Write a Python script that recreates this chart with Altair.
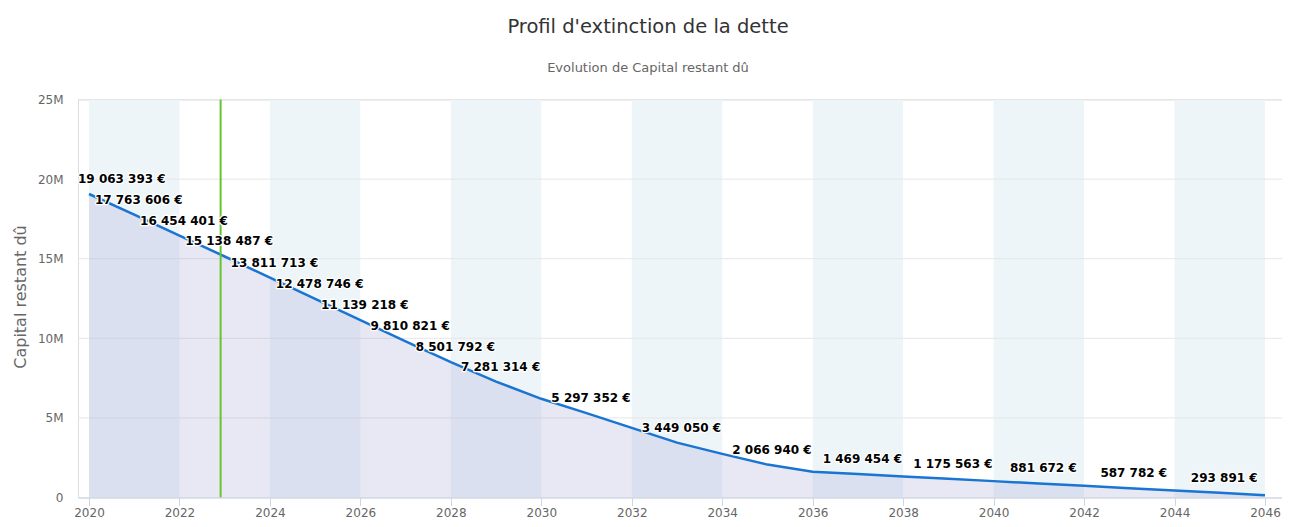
import altair as alt
import pandas as pd

# ---- data ----
years = list(range(2020, 2047))
capital = [19063393, 17763606, 16454401, 15138487, 13811713, 12478746,
           11139218, 9810821, 8501792, 7281314, 6200000, 5297352,
           4370000, 3449050, 2740000, 2066940, 1616400, 1469454,
           1322500, 1175563, 1028600, 881672, 734700, 587782,
           440800, 293891, 147000]
label_years = [2021, 2022, 2023, 2024, 2025, 2026, 2027, 2028, 2029,
               2031, 2033, 2035, 2037, 2039, 2041, 2043, 2045]
first_label_year = 2020
band_starts = [2020, 2024, 2028, 2032, 2036, 2040, 2044]
band_ends = [2022, 2026, 2030, 2034, 2038, 2042, 2046]
today_marker = 2022.91
x_ticks = list(range(2020, 2047, 2))
y_ticks = [0, 5000000, 10000000, 15000000, 20000000, 25000000]


def fmt(v):
    return f"{v:,}".replace(",", " ") + " €"


df = pd.DataFrame({"annee": years, "capital": capital})
df["label"] = df["capital"].map(fmt)
lab = df[df["annee"].isin(label_years)]
first = df[df["annee"] == first_label_year]
bands = pd.DataFrame({"start": band_starts, "end": band_ends})
grid = pd.DataFrame({"v": y_ticks})

FONT = "DejaVu Sans"

xscale = alt.Scale(domain=[2019.7568, 2046.376], nice=False, zero=False)
yscale = alt.Scale(domain=[0, 25000000], nice=False)

x_axis = alt.Axis(values=x_ticks, format="d", title=None, grid=False,
                  domainColor="#ccd6eb", tickColor="#ccd6eb", tickSize=8,
                  labelFontSize=12, labelColor="#666666", labelFont=FONT,
                  labelPadding=2, labelFlush=False, zindex=1)
y_axis = alt.Axis(values=y_ticks, title="Capital restant dû",
                  labelExpr="datum.value == 0 ? '0' : (datum.value / 1000000) + 'M'",
                  grid=False, domain=False, ticks=False,
                  labelFontSize=12, labelColor="#666666", labelFont=FONT,
                  labelPadding=15,
                  titleFont=FONT, titleFontSize=16, titleFontWeight="normal",
                  titleColor="#666666", titleX=-58, titleY=197,
                  titleAngle=270, titleAlign="center", titleBaseline="middle")

X = lambda f: alt.X(f, scale=xscale, axis=x_axis)
Y = lambda f: alt.Y(f, scale=yscale, axis=y_axis)

band_layer = alt.Chart(bands).mark_rect(color="#eef5f8").encode(
    x=X("start:Q"), x2="end:Q")

grid_layer = alt.Chart(grid).mark_rule(color="#e6e6e6", strokeWidth=1).encode(
    y=Y("v:Q"))

area_layer = alt.Chart(df).mark_area(color="#8c8ccc", opacity=0.2).encode(
    x=X("annee:Q"), y=Y("capital:Q"))

line_layer = alt.Chart(df).mark_line(color="#1a74d1", strokeWidth=2.5).encode(
    x=X("annee:Q"), y=Y("capital:Q"))

today_layer = alt.Chart(pd.DataFrame({"t": [today_marker]})).mark_rule(
    color="#66c430", strokeWidth=2).encode(x=X("t:Q"))

lab_style = dict(font=FONT, fontSize=12, fontWeight="bold", baseline="alphabetic")

halo = alt.Chart(lab).mark_text(color="white", stroke="white", strokeWidth=2.5,
                                strokeJoin="round", align="center", dx=4.5, dy=-11,
                                **lab_style).encode(
    x=X("annee:Q"), y=Y("capital:Q"), text="label:N")
text = alt.Chart(lab).mark_text(color="#000000", align="center", dx=4.5, dy=-11,
                                **lab_style).encode(
    x=X("annee:Q"), y=Y("capital:Q"), text="label:N")

halo0 = alt.Chart(first).mark_text(color="white", stroke="white", strokeWidth=2.5,
                                   strokeJoin="round", align="left", dx=-11, dy=-11,
                                   **lab_style).encode(
    x=X("annee:Q"), y=Y("capital:Q"), text="label:N")
text0 = alt.Chart(first).mark_text(color="#000000", align="left", dx=-11, dy=-11,
                                   **lab_style).encode(
    x=X("annee:Q"), y=Y("capital:Q"), text="label:N")

chart = alt.layer(
    band_layer, grid_layer, area_layer, line_layer, today_layer,
    halo, text, halo0, text0
).properties(
    width=1204, height=398,
    autosize=alt.AutoSizeParams(type="none"),
    padding={"left": 70, "top": 91.5, "right": 0, "bottom": 21.5},
    title=alt.TitleParams(
        text="Profil d'extinction de la dette",
        subtitle="Evolution de Capital restant dû",
        font=FONT, fontSize=19.5, fontWeight="normal", color="#333333",
        subtitleFont=FONT, subtitleFontSize=13, subtitleColor="#666666",
        anchor="middle", dx=-32, offset=18, subtitlePadding=24),
).configure_view(stroke=None).configure(background="white")

chart.save("out.html", embed_options={"renderer": "svg", "actions": False})
